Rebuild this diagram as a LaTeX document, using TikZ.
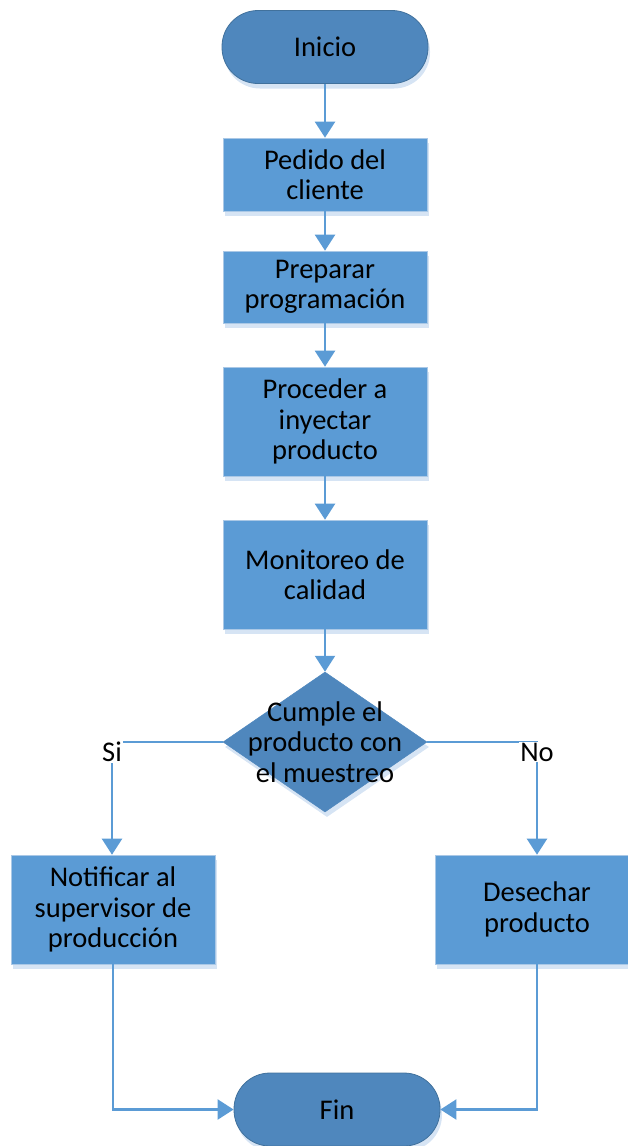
\documentclass[tikz,border=0pt]{standalone}
\usepackage{fontspec}
\setmainfont{Carlito}
\usetikzlibrary{shapes.geometric,shadows,arrows.meta}
\definecolor{boxblue}{RGB}{91,155,213}
\definecolor{darkblue}{RGB}{79,135,189}
\definecolor{edgeblue}{RGB}{65,113,156}
\definecolor{lightedge}{RGB}{170,200,230}
\definecolor{shadowblue}{RGB}{214,228,244}
\definecolor{lineblue}{RGB}{91,155,213}
\tikzset{
  sh/.style={general shadow={shadow xshift=2pt,shadow yshift=-5pt,fill=shadowblue}},
  txt/.style={font=\fontsize{28.5}{30.5}\selectfont,align=center,text=black},
  procbox/.style={sh,txt,rectangle,fill=boxblue,draw=lightedge,line width=0.6pt,minimum width=204pt,inner sep=0pt},
  term/.style={sh,txt,rectangle,rounded corners=36pt,fill=darkblue,draw=edgeblue,line width=0.8pt,minimum width=206pt,minimum height=73pt,inner sep=0pt},
  decision/.style={sh,diamond,fill=darkblue,draw=darkblue,line width=0.5pt,minimum width=204pt,minimum height=140pt,inner sep=0pt},
  conn/.style={draw=lineblue,line width=2.2pt,-{Triangle[width=20pt,length=16pt]}},
  lbl/.style={txt,fill=white,inner sep=1pt}
}
\begin{document}
\begin{tikzpicture}[x=1pt,y=-1pt]
\useasboundingbox (0,0) rectangle (627,1146);
\node[term] (ini) at (325,47) {Inicio};
\node[procbox,minimum height=73pt] (ped) at (325,174.5) {Pedido del\\cliente};
\node[procbox,minimum height=72pt] (pre) at (325,287) {Preparar\\programación};
\node[procbox,minimum height=109pt] (pro) at (325,421.5) {Proceder a\\inyectar\\producto};
\node[procbox,minimum height=109pt] (mon) at (325,574.5) {Monitoreo de\\calidad};
\node[decision] (dec) at (325,742) {};
\node[txt] (dect) at (dec) {Cumple el\\producto con\\el muestreo};
\node[procbox,minimum height=109pt] (not) at (113,909.5) {Notificar al\\supervisor de\\producción};
\node[procbox,minimum height=109pt] (des) at (537,909.5) {Desechar\\producto};
\node[term] (fin) at (337,1109.5) {Fin};
\coordinate (siC) at (112,742);
\coordinate (noC) at (537,742);
\coordinate (notB) at (113,1109.5);
\coordinate (desB) at (537,1109.5);
\draw[conn] (ini) -- (ped);
\draw[conn] (ped) -- (pre);
\draw[conn] (pre) -- (pro);
\draw[conn] (pro) -- (mon);
\draw[conn] (mon) -- (dec.north);
\draw[conn] (dec.west) -- (siC) -- (siC |- not.north);
\draw[conn] (dec.east) -- (noC) -- (noC |- des.north);
\draw[conn] (not.south) -- (notB) -- (fin.west);
\draw[conn] (des.south) -- (desB) -- (fin.east);
\node[lbl] (si) at (112,752) {Si};
\node[lbl] (no) at (537,752) {No};
\end{tikzpicture}
\end{document}
